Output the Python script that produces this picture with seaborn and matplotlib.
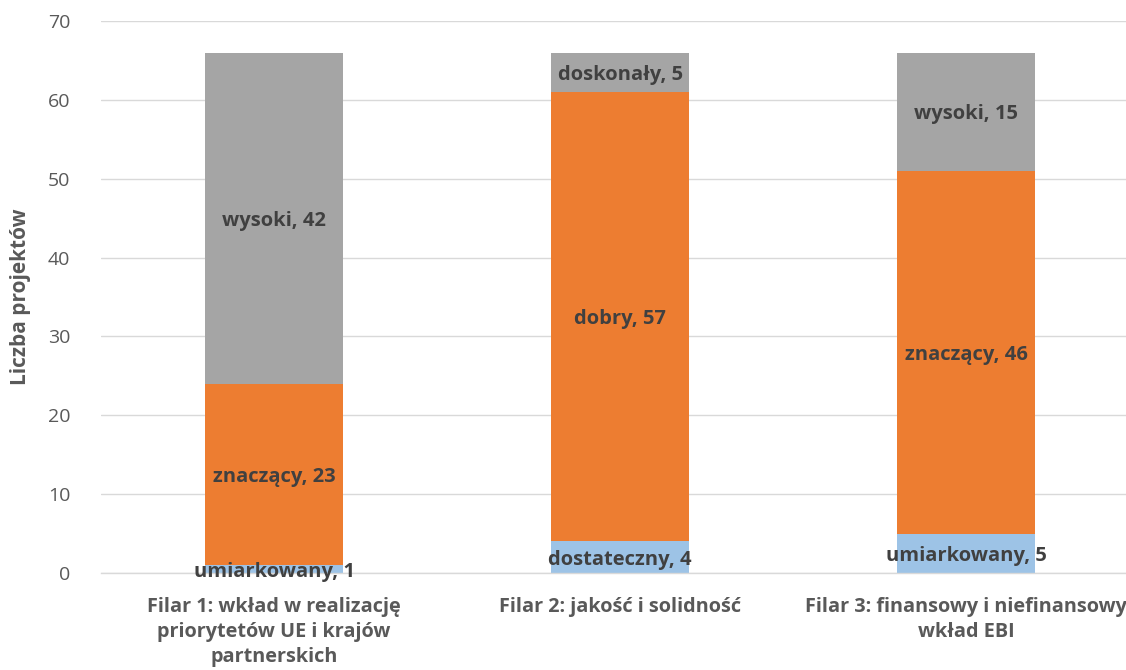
import numpy as np
import pandas as pd
from matplotlib import pyplot as plt
import seaborn as sns

# data
categories = ['Filar 1: wkład w realizację\npriorytetów UE i krajów\npartnerskich',
              'Filar 2: jakość i solidność',
              'Filar 3: finansowy i niefinansowy\nwkład EBI']
low_names = ['umiarkowany', 'dostateczny', 'umiarkowany']
mid_names = ['znaczący', 'dobry', 'znaczący']
high_names = ['wysoki', 'doskonały', 'wysoki']
low_vals = [1, 4, 5]
mid_vals = [23, 57, 46]
high_vals = [42, 5, 15]

df = pd.DataFrame({'Filar': categories, 'low': low_vals, 'mid': mid_vals, 'high': high_vals})
df['low_mid'] = df['low'] + df['mid']
df['total'] = df['low_mid'] + df['high']

sns.set_style('white')
plt.rcParams['font.family'] = ['Open Sans', 'DejaVu Sans']

fig = plt.figure(figsize=(11.26, 6.7), dpi=100)
ax = fig.add_axes([0.0897, 0.1448, 0.922, 0.8239])

#stacked bars: draw the totals first, then the lower parts on top
sns.barplot(x='Filar', y='total', data=df, color='#A5A5A5', width=0.4, saturation=1,
            linewidth=0, ax=ax, zorder=2)
sns.barplot(x='Filar', y='low_mid', data=df, color='#ED7D31', width=0.4, saturation=1,
            linewidth=0, ax=ax, zorder=2)
sns.barplot(x='Filar', y='low', data=df, color='#9DC3E6', width=0.4, saturation=1,
            linewidth=0, ax=ax, zorder=2)

#data labels centred in each segment
for i, row in df.iterrows():
    parts = [(low_names[i], row['low'], 0), (mid_names[i], row['mid'], row['low']),
             (high_names[i], row['high'], row['low_mid'])]
    for name, val, base in parts:
        ax.text(i, base + val / 2, f'{name}, {val}', ha='center', va='center_baseline',
                fontsize=14.5, fontweight='bold', color='#404040', zorder=5)

ax.set_ylim(0, 70)
ax.set_xlim(-0.5, 2.5)
ax.set_yticks(np.arange(0, 71, 10))
ax.yaxis.grid(True, color='#D9D9D9', linewidth=1, zorder=0)
ax.set_axisbelow(True)
for s in ['top', 'right', 'left']:
    ax.spines[s].set_visible(False)
ax.spines['bottom'].set_color('#D9D9D9')
ax.spines['bottom'].set_linewidth(1)

ax.tick_params(axis='y', length=0, labelsize=14, labelcolor='#595959', pad=22)
ax.tick_params(axis='x', length=0, labelsize=14.3, labelcolor='#595959', pad=17)
for lbl in ax.get_xticklabels():
    lbl.set_fontweight('bold')
    lbl.set_linespacing(1.35)

ax.set_xlabel('')
ax.set_ylabel('Liczba projektów', fontsize=15, fontweight='bold', color='#595959', labelpad=12)

fig.savefig('out.png', dpi=100)
